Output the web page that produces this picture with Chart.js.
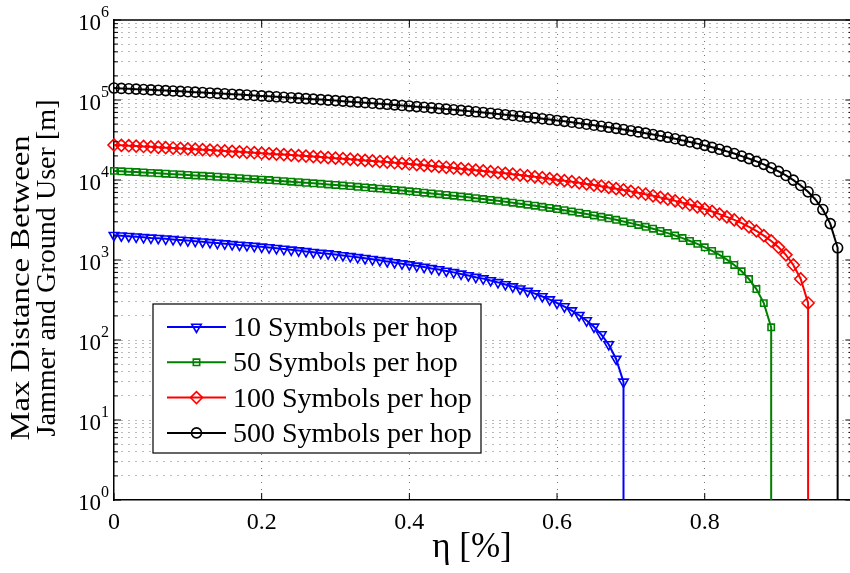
<!DOCTYPE html>
<html>
<head>
<meta charset="utf-8">
<script src="https://cdn.jsdelivr.net/npm/chart.js@4.4.0/dist/chart.umd.min.js"></script>
<style>
  html, body { margin: 0; background: #fff; overflow: hidden; }
</style>
</head>
<body>
<canvas id="c" width="860" height="573"></canvas>
<script>
// ---- data ----
const ETA = [0,0.01,0.02,0.03,0.04,0.05,0.06,0.07,0.08,0.09,
  0.1,0.11,0.12,0.13,0.14,0.15,0.16,0.17,0.18,0.19,
  0.2,0.21,0.22,0.23,0.24,0.25,0.26,0.27,0.28,0.29,
  0.3,0.31,0.32,0.33,0.34,0.35,0.36,0.37,0.38,0.39,
  0.4,0.41,0.42,0.43,0.44,0.45,0.46,0.47,0.48,0.49,
  0.5,0.51,0.52,0.53,0.54,0.55,0.56,0.57,0.58,0.59,
  0.6,0.61,0.62,0.63,0.64,0.65,0.66,0.67,0.68,0.69,
  0.7,0.71,0.72,0.73,0.74,0.75,0.76,0.77,0.78,0.79,
  0.8,0.81,0.82,0.83,0.84,0.85,0.86,0.87,0.88,0.89,
  0.9,0.91,0.92,0.93,0.94,0.95,0.96,0.97,0.98];

const SYM10 = [2040,2010,1980,1950,1920,1890,1870,1840,1810,1780,
  1750,1720,1690,1660,1630,1600,1570,1540,1520,1490,
  1460,1430,1400,1370,1340,1310,1280,1250,1220,1200,
  1170,1140,1110,1080,1050,1020,990,960,930,900,
  875,845,815,785,760,730,700,670,640,610,
  585,555,525,495,465,437,408,380,350,320,
  290,262,233,204,175,146,117,88,58,30];

const SYM50 = [13000,12860,12710,12570,12420,12280,12130,11990,11840,11700,
  11560,11410,11270,11120,10980,10830,10690,10540,10400,10260,
  10110,9970,9820,9680,9530,9390,9240,9100,8960,8810,
  8670,8520,8380,8230,8090,7940,7800,7660,7510,7370,
  7220,7080,6930,6790,6640,6500,6360,6210,6070,5920,
  5780,5630,5490,5340,5200,5060,4910,4770,4620,4480,
  4330,4190,4040,3900,3760,3610,3470,3320,3180,3030,
  2890,2740,2600,2460,2310,2170,2020,1880,1730,1590,
  1440,1300,1160,1010,867,722,578,433,289,144];

const SYM100 = [27400,27110,26820,26540,26250,25960,25670,25380,25090,24800,
  24520,24230,23940,23650,23360,23070,22790,22500,22210,21920,
  21630,21340,21060,20770,20480,20190,19900,19610,19330,19040,
  18750,18460,18170,17880,17590,17310,17020,16730,16440,16150,
  15860,15580,15290,15000,14710,14420,14130,13850,13560,13270,
  12980,12690,12400,12120,11830,11540,11250,10960,10670,10380,
  10100,9810,9520,9230,8940,8650,8370,8080,7790,7500,
  7210,6920,6640,6350,6060,5770,5480,5190,4910,4620,
  4330,4040,3750,3460,3170,2890,2600,2310,2020,1730,
  1440,1160,867,579,290];

const SYM500 = [141000,139600,138200,136700,135300,133900,132500,131000,129600,128200,
  126800,125300,123900,122500,121100,119600,118200,116800,115400,113900,
  112500,111100,109700,108200,106800,105400,104000,102500,101100,99700,
  98300,96800,95400,94000,92600,91200,89700,88300,86900,85500,
  84000,82600,81200,79800,78300,76900,75500,74100,72600,71200,
  69800,68400,66900,65500,64100,62700,61200,59800,58400,57000,
  55500,54100,52700,51300,49800,48400,47000,45600,44200,42700,
  41300,39900,38500,37000,35600,34200,32800,31300,29900,28500,
  27100,25600,24200,22800,21400,19900,18500,17100,15700,14200,
  12800,11400,9970,8550,7120,5700,4270,2850,1420];

// value after the last marker: falls off the bottom of the log axis
const FLOOR = 0.001;

const LABELS = ["10 Symbols per hop", "50 Symbols per hop", "100 Symbols per hop", "500 Symbols per hop"];

const X_TICKS = [0, 0.2, 0.4, 0.6, 0.8, 1];
const X_LABELS = ["0", "0.2", "0.4", "0.6", "0.8", ""];
const Y_DECADES = [1, 10, 100, 1000, 10000, 100000, 1000000];
const Y_EXPONENTS = ["0", "1", "2", "3", "4", "5", "6"];
const Y_MINOR = [2, 3, 4, 5, 6, 7, 8, 9];

const X_TITLE = "η [%]";
const Y_TITLE = ["Max Distance Between", "Jammer and Ground User [m]"];

// ---- style ----
const SERIF = '"Liberation Serif", "Times New Roman", serif';
const GRID = "rgba(100,100,100,0.9)";

function series(label, values, color, style, radius, rotation){
  const pts = values.map((v, i) => ({ x: ETA[i], y: v }));
  pts.push({ x: ETA[values.length - 1], y: FLOOR });
  return {
    label, data: pts,
    borderColor: color, borderWidth: 2, tension: 0,
    pointStyle: style, pointRotation: rotation,
    pointRadius: c => c.dataIndex === values.length ? 0 : radius,
    pointBorderColor: color, pointBackgroundColor: "rgba(0,0,0,0)", pointBorderWidth: 1.6,
    clip: { left: 8, top: 8, right: 8, bottom: 0 },
  };
}

const datasets = [
  series(LABELS[0], SYM10, "#0000ff", "triangle", 5.5, 180),
  series(LABELS[1], SYM50, "#008000", "rect", 4.5, 0),
  series(LABELS[2], SYM100, "#ff0000", "rectRot", 6, 0),
  series(LABELS[3], SYM500, "#000000", "circle", 5, 0),
];

const frame = {
  id: "frame",
  afterDraw(chart){
    const ctx = chart.ctx, a = chart.chartArea;
    const xs = chart.scales.x, ys = chart.scales.y;
    ctx.save();
    ctx.strokeStyle = "#000"; ctx.lineWidth = 1.5;
    // top and right border
    ctx.beginPath(); ctx.moveTo(a.left, a.top); ctx.lineTo(a.right, a.top); ctx.lineTo(a.right, a.bottom); ctx.stroke();
    // inner ticks
    ctx.lineWidth = 1;
    ctx.beginPath();
    for (const v of X_TICKS){
      const px = xs.getPixelForValue(v);
      ctx.moveTo(px, a.bottom); ctx.lineTo(px, a.bottom - 7);
      ctx.moveTo(px, a.top); ctx.lineTo(px, a.top + 7);
    }
    for (const t of ys.ticks){
      const py = ys.getPixelForValue(t.value);
      const len = Y_DECADES.includes(t.value) ? 7 : 4;
      ctx.moveTo(a.left, py); ctx.lineTo(a.left + len, py);
      ctx.moveTo(a.right, py); ctx.lineTo(a.right - len, py);
    }
    ctx.stroke();

    ctx.fillStyle = "#000";
    ctx.textBaseline = "alphabetic";
    // x tick labels
    ctx.font = "24px " + SERIF; ctx.textAlign = "center";
    X_TICKS.forEach((v, i) => ctx.fillText(X_LABELS[i], xs.getPixelForValue(v), 529));

    // y tick labels 10^k
    Y_DECADES.forEach((v, k) => {
      const py = ys.getPixelForValue(v);
      ctx.font = "23px " + SERIF; ctx.textAlign = "right";
      ctx.fillText("10", 101, py + 10);
      ctx.font = "16px " + SERIF; ctx.textAlign = "left";
      ctx.fillText(Y_EXPONENTS[k], 101, py - 3);
    });

    // y title, two lines, each stretched to the length seen in the picture
    ctx.font = "27px " + SERIF; ctx.textAlign = "center"; ctx.textBaseline = "middle";
    const tx = [22, 48], tc = [288, 268], tlen = [305, 337];
    Y_TITLE.forEach((line, i) => {
      const sx = tlen[i] / ctx.measureText(line).width;
      ctx.save(); ctx.translate(tx[i], tc[i]); ctx.rotate(-Math.PI / 2); ctx.scale(sx, 1);
      ctx.fillText(line, 0, 0); ctx.restore();
    });

    // x title
    ctx.font = "35px " + SERIF; ctx.textAlign = "center"; ctx.textBaseline = "alphabetic";
    ctx.fillText(X_TITLE, 472, 557);

    // legend
    const L = { x: 153, y: 304, w: 328, h: 149 };
    ctx.fillStyle = "#fff"; ctx.fillRect(L.x, L.y, L.w, L.h);
    ctx.strokeStyle = "#000"; ctx.lineWidth = 1.2; ctx.strokeRect(L.x, L.y, L.w, L.h);
    chart.data.datasets.forEach((ds, i) => {
      const y = 327 + i * 35.3;
      ctx.strokeStyle = ds.borderColor; ctx.lineWidth = ds.borderWidth;
      ctx.beginPath(); ctx.moveTo(167, y); ctx.lineTo(226, y); ctx.stroke();
      ctx.fillStyle = "rgba(0,0,0,0)"; ctx.lineWidth = ds.pointBorderWidth;
      Chart.helpers.drawPoint(ctx, { pointStyle: ds.pointStyle, rotation: ds.pointRotation,
        radius: ds.pointRadius({ dataIndex: 0 }), borderWidth: ds.pointBorderWidth }, 196.5, y);
      ctx.fillStyle = "#000"; ctx.font = "28px " + SERIF;
      ctx.textAlign = "left"; ctx.textBaseline = "alphabetic";
      ctx.fillText(ds.label, 233, y + 9);
    });
    ctx.restore();
  }
};

new Chart(document.getElementById("c"), {
  type: "line",
  data: { datasets },
  options: {
    responsive: false, animation: false,
    layout: { padding: { top: 20, right: 6, left: 0, bottom: 0 } },
    plugins: { legend: { display: false }, tooltip: { enabled: false } },
    scales: {
      x: {
        type: "linear", min: 0, max: 1,
        afterBuildTicks: s => { s.ticks = X_TICKS.map(v => ({ value: v })); },
        afterFit: s => { s.height = 73; },
        ticks: { display: false },
        grid: { color: c => (c.tick && (c.tick.value === 0 || c.tick.value === 1)) ? "rgba(0,0,0,0)" : GRID,
                lineWidth: 1, drawTicks: false },
        border: { display: true, color: "#000", width: 1.5, dash: [1, 6] },
      },
      y: {
        type: "logarithmic", min: 1, max: 1000000,
        afterBuildTicks: s => {
          const t = [];
          Y_DECADES.forEach((d, k) => {
            t.push({ value: d });
            if (k < Y_DECADES.length - 1) Y_MINOR.forEach(m => t.push({ value: m * d }));
          });
          s.ticks = t;
        },
        afterFit: s => { s.width = 114; },
        ticks: { display: false },
        grid: { color: c => (c.tick && (c.tick.value === 1 || c.tick.value === 1000000)) ? "rgba(0,0,0,0)" : GRID,
                lineWidth: 1, drawTicks: false },
        border: { display: true, color: "#000", width: 1.5, dash: [1, 6] },
      },
    },
  },
  plugins: [frame],
});
</script>
</body>
</html>
